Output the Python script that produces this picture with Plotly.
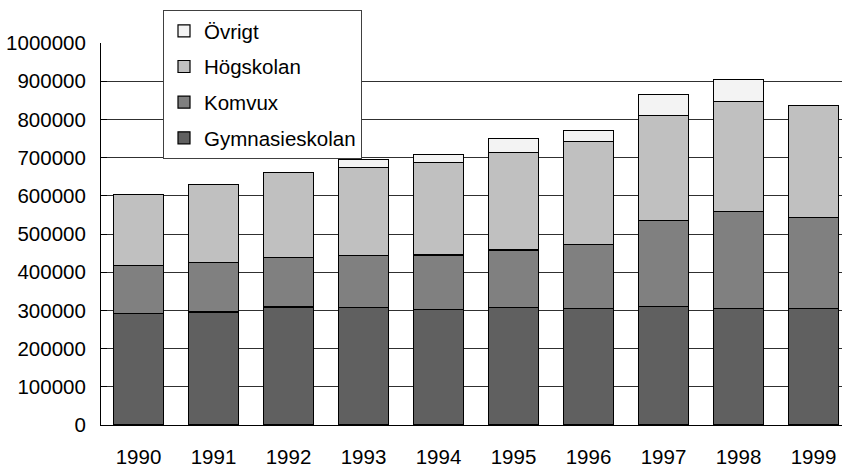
import plotly.graph_objects as go

years = ["1990", "1991", "1992", "1993", "1994", "1995", "1996", "1997", "1998", "1999"]
gymnasieskolan = [291000, 296000, 309000, 307000, 303000, 307000, 305000, 310000, 304000, 304000]
komvux = [126000, 130000, 129000, 137000, 142000, 151000, 168000, 226000, 254000, 239000]
hogskolan = [187000, 204000, 223000, 230000, 243000, 255000, 270000, 274000, 289000, 293000]
ovrigt = [0, 0, 0, 22000, 21000, 36000, 27000, 55000, 58000, 0]
y_ticks = [0, 100000, 200000, 300000, 400000, 500000, 600000, 700000, 800000, 900000, 1000000]

series = [
    ("Gymnasieskolan", gymnasieskolan, "#606060", 4),
    ("Komvux", komvux, "#808080", 3),
    ("Högskolan", hogskolan, "#c0c0c0", 2),
    ("Övrigt", ovrigt, "#f3f3f3", 1),
]

FONT = "Liberation Sans, Arial, sans-serif"

fig = go.Figure()
for name, vals, col, rank in series:
    fig.add_trace(go.Bar(
        x=years, y=vals, name=name, legendgroup=name, legendrank=rank,
        marker=dict(color=col, line=dict(color="black", width=1.2)),
    ))

fig.update_layout(
    barmode="stack",
    bargap=1/3,
    width=842, height=469,
    margin=dict(l=101, r=0, t=43, b=44, autoexpand=False),
    paper_bgcolor="white", plot_bgcolor="white",
    font=dict(family=FONT, size=20.5, color="black"),
    showlegend=True,
    legend=dict(
        traceorder="grouped",
        tracegroupgap=6,
        x=(163 - 101) / 741, xanchor="left",
        y=(425 - 10) / 382, yanchor="top",
        bgcolor="white", bordercolor="#404040", borderwidth=1,
        font=dict(family=FONT, size=20.5, color="black"),
    ),
    xaxis=dict(
        type="category", range=[-0.5, 9.38], automargin=False,
        showline=True, linecolor="black", linewidth=1,
        showgrid=False, ticks="", ticklabelstandoff=13,
        tickfont=dict(family=FONT, size=20.5, color="black"),
    ),
    yaxis=dict(
        range=[0, 1000000], tickvals=y_ticks, automargin=False,
        ticktext=[str(v) for v in y_ticks],
        showline=True, linecolor="black", linewidth=1,
        showgrid=True, gridcolor="#303030", gridwidth=1,
        ticks="inside", ticklen=6, tickcolor="black",
        ticklabelstandoff=10,
        zeroline=False,
        tickfont=dict(family=FONT, size=20.5, color="black"),
    ),
)

fig.write_html(
    "out.html",
    config={"displayModeBar": False},
    post_script="document.body.style.margin='0';document.body.style.padding='0';",
)
